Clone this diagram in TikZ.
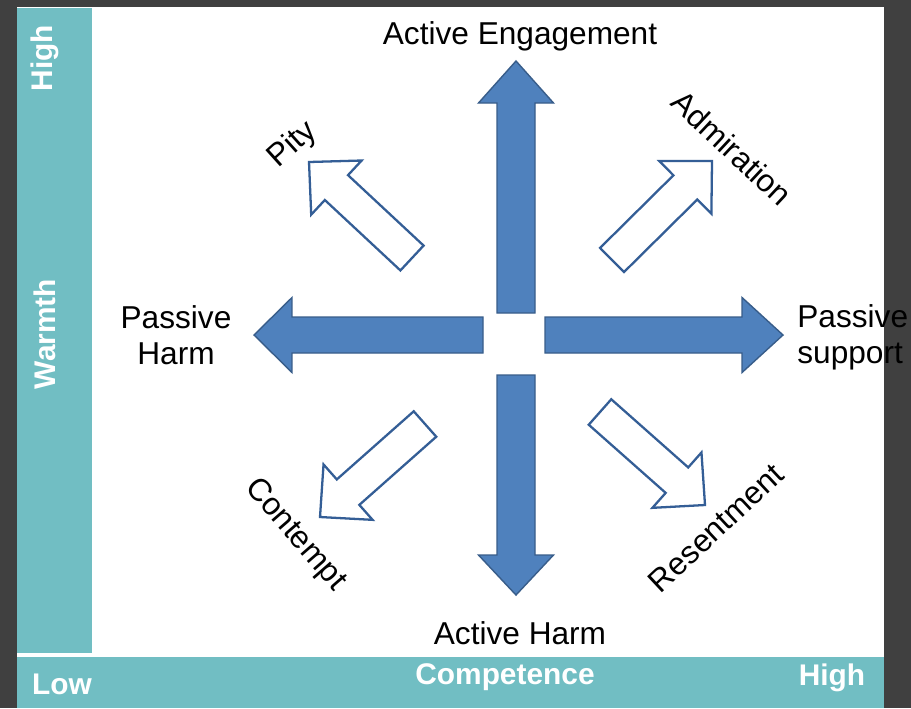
\documentclass[tikz,border=0pt]{standalone}
\usepackage{fontspec}
\setmainfont{Liberation Sans}
\usetikzlibrary{calc}

\definecolor{barteal}{RGB}{113,190,195}
\definecolor{framegray}{RGB}{64,64,64}
\definecolor{arrowfill}{RGB}{79,129,189}
\definecolor{arrowline}{RGB}{56,93,138}
\definecolor{hollowline}{RGB}{52,94,150}

\tikzset{
  solid arrow/.style={fill=arrowfill, draw=arrowline, line width=0.8pt, line join=miter},
  hollow arrow/.style={fill=white, draw=hollowline, line width=1.3pt, line join=miter},
  axis label/.style={text=white, inner sep=0pt, font=\fontsize{17}{20}\selectfont\bfseries},
  emotion/.style={inner sep=0pt, align=center, font=\fontsize{18}{20.5}\selectfont},
}

% #1 style, #2 tail, #3 tip, #4 half shaft, #5 half head, #6 head length
\newcommand{\blockarrow}[6]{
  \coordinate (hb) at ($(#3)!#6!(#2)$);
  \draw[#1] ($(#2)!#4!90:(#3)$) -- ($(hb)!#4!90:(#3)$) -- ($(hb)!#5!90:(#3)$)
    -- (#3) -- ($(hb)!#5!-90:(#3)$) -- ($(hb)!#4!-90:(#3)$) -- ($(#2)!#4!-90:(#3)$) -- cycle;
}

\begin{document}
\begin{tikzpicture}[x=0.02cm, y=-0.02cm]

  \fill[framegray] (0,0) rectangle (911,708);
  \fill[white] (17,7) rectangle (884,708);
  \fill[barteal] (17,8) rectangle (92,653);
  \fill[barteal] (17,657) rectangle (884,708);

  \node[axis label, rotate=90] (warm high) at (45,58) {High};
  \node[axis label, rotate=90] (warmth) at (45,334) {Warmth};
  \node[axis label] (comp low) at (62,684) {Low};
  \node[axis label] (competence) at (505,677) {Competence};
  \node[axis label] (comp high) at (832,678) {High};

  \coordinate (up tail) at (516,313);
  \coordinate (up tip) at (516,61);
  \coordinate (down tail) at (516,375);
  \coordinate (down tip) at (516,595);
  \coordinate (left tail) at (483,335);
  \coordinate (left tip) at (254,335);
  \coordinate (right tail) at (545,335);
  \coordinate (right tip) at (783,335);

  \coordinate (pity tail) at (412,258);
  \coordinate (pity tip) at (309,162);
  \coordinate (admire tail) at (612,260);
  \coordinate (admire tip) at (712,161);
  \coordinate (contempt tail) at (425,424);
  \coordinate (contempt tip) at (320,517);
  \coordinate (resent tail) at (600,412);
  \coordinate (resent tip) at (705,505);

  \blockarrow{solid arrow}{up tail}{up tip}{0.38cm}{0.75cm}{0.84cm}
  \blockarrow{solid arrow}{down tail}{down tip}{0.38cm}{0.75cm}{0.8cm}
  \blockarrow{solid arrow}{left tail}{left tip}{0.36cm}{0.75cm}{0.76cm}
  \blockarrow{solid arrow}{right tail}{right tip}{0.36cm}{0.75cm}{0.82cm}

  \blockarrow{hollow arrow}{pity tail}{pity tip}{0.34cm}{0.74cm}{0.75cm}
  \blockarrow{hollow arrow}{admire tail}{admire tip}{0.34cm}{0.74cm}{0.75cm}
  \blockarrow{hollow arrow}{contempt tail}{contempt tip}{0.34cm}{0.74cm}{0.75cm}
  \blockarrow{hollow arrow}{resent tail}{resent tip}{0.34cm}{0.74cm}{0.75cm}

  \node[emotion] (engagement) at ($(up tip)+(4,-25)$) {Active Engagement};
  \node[emotion] (harm) at ($(down tip)+(4,38)$) {Active Harm};
  \node[emotion] (passive harm) at ($(left tip)+(-78,0)$) {Passive\\Harm};
  \node[emotion, anchor=west, align=left] (passive support) at ($(right tip)+(14,2)$) {Passive\\support};

  \node[emotion, rotate=42] (pity) at ($(pity tip)+(-16,-17)$) {Pity};
  \node[emotion, rotate=-43] (admiration) at ($(admire tip)+(20,-13)$) {Admiration};
  \node[emotion, rotate=-49] (contempt) at ($(contempt tip)+(-25,18)$) {Contempt};
  \node[emotion, rotate=43] (resentment) at ($(resent tip)+(11,23)$) {Resentment};

\end{tikzpicture}
\end{document}
